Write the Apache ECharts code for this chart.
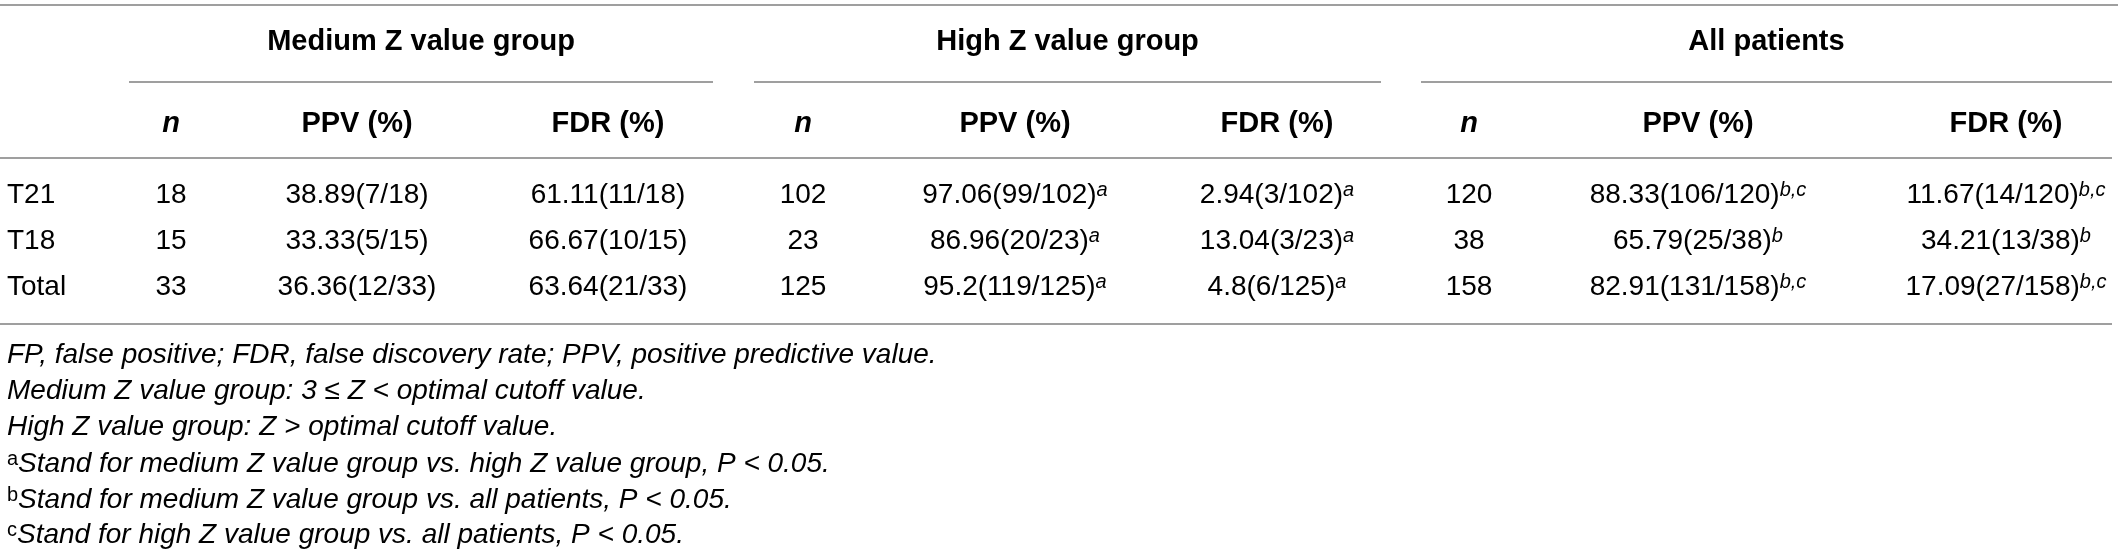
<!DOCTYPE html>
<html>
<head>
<meta charset="utf-8">
<script src="https://cdn.jsdelivr.net/npm/echarts@6/dist/echarts.min.js"></script>
<style>
  html, body { margin: 0; padding: 0; background: #fff; }
  #main { width: 2118px; height: 559px; }
</style>
</head>
<body>
<div id="main"></div>
<script>
const chart = echarts.init(document.querySelector('#main'))

// table content
const groups = ['Medium Z value group', 'High Z value group', 'All patients']
const columnHeads = ['n', 'PPV (%)', 'FDR (%)']
const rowLabels = ['T21', 'T18', 'Total']

const mediumN = [18, 15, 33]
const mediumPpv = [38.89, 33.33, 36.36]
const mediumPpvHits = [7, 5, 12]
const mediumFdr = [61.11, 66.67, 63.64]
const mediumFdrHits = [11, 10, 21]
const mediumMarks = ['', '', '']

const highN = [102, 23, 125]
const highPpv = [97.06, 86.96, 95.2]
const highPpvHits = [99, 20, 119]
const highFdr = [2.94, 13.04, 4.8]
const highFdrHits = [3, 3, 6]
const highMarks = ['a', 'a', 'a']

const allN = [120, 38, 158]
const allPpv = [88.33, 65.79, 82.91]
const allPpvHits = [106, 25, 131]
const allFdr = [11.67, 34.21, 17.09]
const allFdrHits = [14, 13, 27]
const allMarks = ['b,c', 'b', 'b,c']

const noteMarks = ['', '', '', 'a', 'b', 'c']
const noteTexts = [
  'FP, false positive; FDR, false discovery rate; PPV, positive predictive value.',
  'Medium Z value group: 3 \u2264 Z < optimal cutoff value.',
  'High Z value group: Z > optimal cutoff value.',
  'Stand for medium Z value group vs. high Z value group, P < 0.05.',
  'Stand for medium Z value group vs. all patients, P < 0.05.',
  'Stand for high Z value group vs. all patients, P < 0.05.'
]

// layout, in axis units (the axes span the page)
const PAGE_W = 2118
const PAGE_H = 559
const LABEL_X = 7
const GROUP_SPANS = [[129, 713], [754, 1381], [1421, 2112]]
const COL_X = [[171, 357, 608], [803, 1015, 1277], [1469, 1698, 2006]]
const Y_TOP_RULE = 5
const Y_GROUP = 42
const Y_GROUP_RULE = 82
const Y_HEAD = 124
const Y_HEAD_RULE = 158
const Y_ROWS = [195, 241, 287]
const Y_BODY_RULE = 324
const Y_NOTES = [355, 391, 427, 464, 500, 535]

const FONT = 'Liberation Sans, Arial, sans-serif'
const INK = '#231f20'
const RULE = '#7f7f7f'

const tableGroups = [
  { n: mediumN, ppv: mediumPpv, ppvHits: mediumPpvHits, fdr: mediumFdr, fdrHits: mediumFdrHits, marks: mediumMarks },
  { n: highN, ppv: highPpv, ppvHits: highPpvHits, fdr: highFdr, fdrHits: highFdrHits, marks: highMarks },
  { n: allN, ppv: allPpv, ppvHits: allPpvHits, fdr: allFdr, fdrHits: allFdrHits, marks: allMarks }
]

function sup (mark) {
  return mark ? '{sup|' + mark + '}' : ''
}

let cells = []

groups.forEach((name, g) => {
  let span = GROUP_SPANS[g]
  cells.push({ x: (span[0] + span[1]) / 2, y: Y_GROUP, text: '{head|' + name + '}', align: 'center' })
  columnHeads.forEach((h, c) => {
    let style = c === 0 ? 'headItalic' : 'head'
    cells.push({ x: COL_X[g][c], y: Y_HEAD, text: '{' + style + '|' + h + '}', align: 'center' })
  })
})

rowLabels.forEach((label, r) => {
  cells.push({ x: LABEL_X, y: Y_ROWS[r], text: '{body|' + label + '}', align: 'left' })
  tableGroups.forEach((t, g) => {
    let mark = sup(t.marks[r])
    cells.push({ x: COL_X[g][0], y: Y_ROWS[r], text: '{body|' + t.n[r] + '}', align: 'center' })
    cells.push({
      x: COL_X[g][1], y: Y_ROWS[r], align: 'center',
      text: '{body|' + t.ppv[r] + '(' + t.ppvHits[r] + '/' + t.n[r] + ')}' + mark
    })
    cells.push({
      x: COL_X[g][2], y: Y_ROWS[r], align: 'center',
      text: '{body|' + t.fdr[r] + '(' + t.fdrHits[r] + '/' + t.n[r] + ')}' + mark
    })
  })
})

noteTexts.forEach((note, i) => {
  let mark = noteMarks[i] ? '{noteMark|' + noteMarks[i] + '}' : ''
  cells.push({ x: LABEL_X, y: Y_NOTES[i], text: mark + '{note|' + note + '}', align: 'left' })
})

let rules = [
  [0, PAGE_W, Y_TOP_RULE],
  [GROUP_SPANS[0][0], GROUP_SPANS[0][1], Y_GROUP_RULE],
  [GROUP_SPANS[1][0], GROUP_SPANS[1][1], Y_GROUP_RULE],
  [GROUP_SPANS[2][0], GROUP_SPANS[2][1], Y_GROUP_RULE],
  [0, GROUP_SPANS[2][1], Y_HEAD_RULE],
  [0, GROUP_SPANS[2][1], Y_BODY_RULE]
]

const richStyles = {
  head: { fontFamily: FONT, fontSize: 29, fontWeight: 'bold', color: INK, lineHeight: 32 },
  headItalic: { fontFamily: FONT, fontSize: 29, fontWeight: 'bold', fontStyle: 'italic', color: INK, lineHeight: 32 },
  body: { fontFamily: FONT, fontSize: 28, color: INK, lineHeight: 30 },
  sup: { fontFamily: FONT, fontSize: 20, fontStyle: 'italic', color: INK, lineHeight: 12, verticalAlign: 'top' },
  note: { fontFamily: FONT, fontSize: 28, fontStyle: 'italic', color: INK, lineHeight: 30 },
  noteMark: { fontFamily: FONT, fontSize: 20, color: INK, lineHeight: 12, verticalAlign: 'top' }
}

let option = {
  animation: false,
  grid: { left: 0, right: 0, top: 0, bottom: 0, containLabel: false },
  xAxis: { type: 'value', min: 0, max: PAGE_W, show: false },
  yAxis: { type: 'value', min: 0, max: PAGE_H, inverse: true, show: false },
  series: [
    {
      type: 'custom',
      name: 'rules',
      silent: true,
      clip: false,
      encode: { x: [0, 1], y: 2 },
      data: rules,
      renderItem (params, api) {
        let a = api.coord([api.value(0), api.value(2)])
        let b = api.coord([api.value(1), api.value(2)])
        return {
          type: 'line',
          shape: { x1: a[0], y1: a[1], x2: b[0], y2: b[1] },
          style: { stroke: RULE, lineWidth: 1.6 }
        }
      }
    },
    {
      type: 'custom',
      name: 'cells',
      silent: true,
      clip: false,
      data: cells.map(c => [c.x, c.y]),
      renderItem (params, api) {
        let cell = cells[params.dataIndex]
        let p = api.coord([api.value(0), api.value(1)])
        return {
          type: 'text',
          x: p[0],
          y: p[1],
          style: {
            text: cell.text,
            align: cell.align,
            verticalAlign: 'middle',
            rich: richStyles
          }
        }
      }
    }
  ]
}

chart.setOption(option)
</script>
</body>
</html>
